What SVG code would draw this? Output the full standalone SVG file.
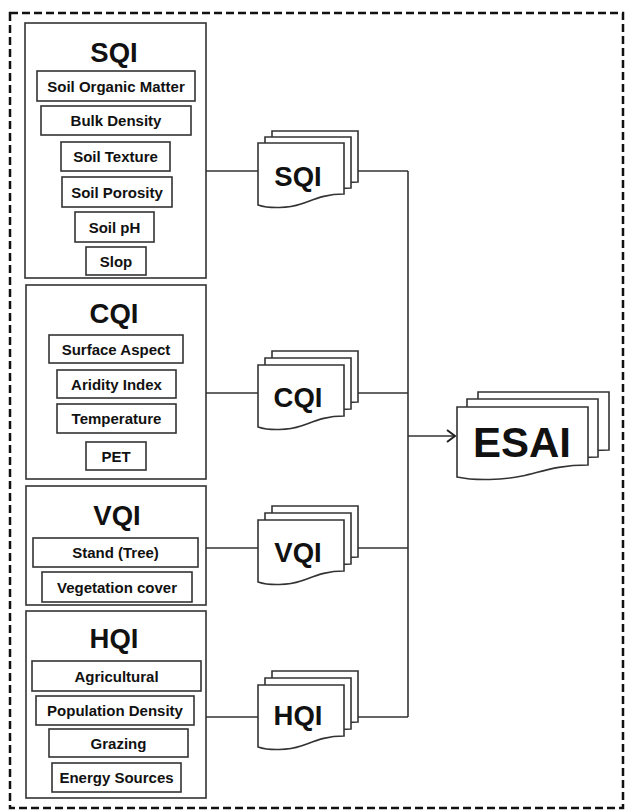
<svg xmlns="http://www.w3.org/2000/svg" width="625" height="810" viewBox="0 0 625 810">
<defs>
<style>
.frame{fill:none;stroke:#111;stroke-width:2.5;stroke-dasharray:8 4}
.grp{fill:#fff;stroke:#333;stroke-width:1.6}
.item{fill:#fff;stroke:#333;stroke-width:1.6}
.lbl{font-family:"Liberation Sans",Arial,sans-serif;font-weight:bold;font-size:15px;fill:#111;text-anchor:middle}
.ttl{font-family:"Liberation Sans",Arial,sans-serif;font-weight:bold;font-size:27.5px;fill:#111;text-anchor:middle}
.big{font-family:"Liberation Sans",Arial,sans-serif;font-weight:bold;font-size:42px;fill:#111;text-anchor:middle}
.doc{fill:#fff;stroke:#333;stroke-width:1.6}
.conn{fill:none;stroke:#333;stroke-width:1.6}
</style>
<path id="d" d="M0,0 H86 V51 C66,51 55,57 43,61 C31,65 12,66 0,62 Z"/>
<path id="D" d="M0,0 H131 V58 C100,58 84,65 65,69 C47,73 18,74 0,70 Z"/>
<marker id="arr" markerWidth="12" markerHeight="14" refX="10" refY="7" orient="auto" markerUnits="userSpaceOnUse">
<polyline points="2,1 10,7 2,13" fill="none" stroke="#222" stroke-width="2"/>
</marker>
</defs>
<rect class="frame" x="10" y="13" width="613" height="795"/>

<g id="sqi-box">
<rect class="grp" x="25" y="23" width="181" height="255"/>
<text class="ttl" x="114" y="62">SQI</text>
<rect class="item" x="37" y="71" width="158" height="30"/><text class="lbl" x="116" y="91.5">Soil Organic Matter</text>
<rect class="item" x="41" y="106" width="150" height="29"/><text class="lbl" x="116" y="126">Bulk Density</text>
<rect class="item" x="61" y="142" width="109" height="29"/><text class="lbl" x="115.5" y="162">Soil Texture</text>
<rect class="item" x="62" y="177" width="110" height="30"/><text class="lbl" x="117" y="197.5">Soil Porosity</text>
<rect class="item" x="75" y="212" width="79" height="30"/><text class="lbl" x="114.5" y="232.5">Soil pH</text>
<rect class="item" x="86" y="247" width="60" height="28"/><text class="lbl" x="116" y="266.5">Slop</text>
</g>

<g id="cqi-box">
<rect class="grp" x="26" y="285" width="180" height="194"/>
<text class="ttl" x="114" y="323">CQI</text>
<rect class="item" x="49" y="335" width="134" height="28"/><text class="lbl" x="116" y="354.5">Surface Aspect</text>
<rect class="item" x="57" y="370" width="119" height="28"/><text class="lbl" x="116.5" y="389.5">Aridity Index</text>
<rect class="item" x="57" y="404" width="119" height="29"/><text class="lbl" x="116.5" y="424">Temperature</text>
<rect class="item" x="86" y="442" width="60" height="28"/><text class="lbl" x="116" y="461.5">PET</text>
</g>

<g id="vqi-box">
<rect class="grp" x="26" y="486" width="180" height="119"/>
<text class="ttl" x="117" y="525">VQI</text>
<rect class="item" x="33" y="538" width="165" height="29"/><text class="lbl" x="115.5" y="558">Stand (Tree)</text>
<rect class="item" x="42" y="572" width="150" height="30"/><text class="lbl" x="117" y="592.5">Vegetation cover</text>
</g>

<g id="hqi-box">
<rect class="grp" x="26" y="611" width="180" height="187"/>
<text class="ttl" x="114" y="648">HQI</text>
<rect class="item" x="32" y="661" width="169" height="30"/><text class="lbl" x="116.5" y="681.5">Agricultural</text>
<rect class="item" x="36" y="696" width="158" height="29"/><text class="lbl" x="115" y="716">Population Density</text>
<rect class="item" x="49" y="729" width="139" height="28"/><text class="lbl" x="118.5" y="748.5">Grazing</text>
<rect class="item" x="52" y="763" width="129" height="29"/><text class="lbl" x="116.5" y="783">Energy Sources</text>
</g>

<g id="connectors">
<path class="conn" d="M206,171 H258 M357,171 H408"/>
<path class="conn" d="M206,393 H258 M357,393 H408"/>
<path class="conn" d="M206,548 H258 M357,548 H408"/>
<path class="conn" d="M206,717 H258 M357,717 H408"/>
<path class="conn" d="M408,171 V717"/>
<path class="conn" d="M408,436 H455" stroke-width="2" marker-end="url(#arr)"/>
</g>

<g id="sqi-doc">
<use href="#d" class="doc" x="272" y="131"/>
<use href="#d" class="doc" x="265" y="137"/>
<use href="#d" class="doc" x="258" y="143"/>
<text class="ttl" x="298" y="186">SQI</text>
</g>

<g id="cqi-doc">
<use href="#d" class="doc" x="272" y="351"/>
<use href="#d" class="doc" x="265" y="358"/>
<use href="#d" class="doc" x="258" y="365"/>
<text class="ttl" x="298" y="407">CQI</text>
</g>

<g id="vqi-doc">
<use href="#d" class="doc" x="272" y="506"/>
<use href="#d" class="doc" x="265" y="513"/>
<use href="#d" class="doc" x="258" y="520"/>
<text class="ttl" x="298" y="562">VQI</text>
</g>

<g id="hqi-doc">
<use href="#d" class="doc" x="272" y="671"/>
<use href="#d" class="doc" x="265" y="678"/>
<use href="#d" class="doc" x="258" y="685"/>
<text class="ttl" x="298" y="725">HQI</text>
</g>

<g id="esai">
<use href="#D" class="doc" x="478" y="392"/>
<use href="#D" class="doc" x="467" y="399"/>
<use href="#D" class="doc" x="457" y="407"/>
<text class="big" x="522" y="457">ESAI</text>
</g>
</svg>
